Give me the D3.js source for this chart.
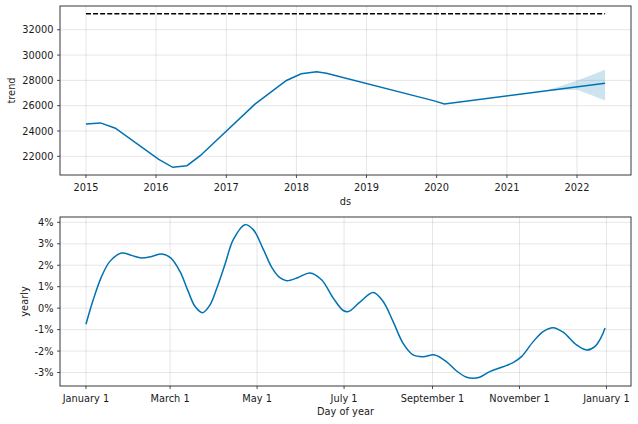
<!DOCTYPE html>
<html>
<head>
<meta charset="utf-8">
<script src="https://cdn.jsdelivr.net/npm/d3@7"></script>
<style>
  html, body { margin: 0; padding: 0; background: #fff; }
  svg { display: block; font-family: "DejaVu Sans", sans-serif; }
</style>
</head>
<body>
<svg id="chart" width="638" height="424"></svg>
<script>
// ---------------- DATA ----------------
const trendDates = ["2015-01-01","2015-03-18","2015-06-03","2016-01-15","2016-03-28","2016-06-10",
  "2016-08-18","2017-05-30","2017-11-10","2018-01-26","2018-04-16","2018-06-06","2019-12-20",
  "2020-02-10","2022-05-27"];
const trendValues = [24560,24640,24220,21760,21130,21260,22050,26120,27990,28520,28680,28570,26380,26140,27780];
const capValue = 33270;
const bandDates = ["2021-07-20","2021-10-01","2022-01-01","2022-03-15","2022-05-27"];
const bandUpper = [27171,27514,27990,28400,28830];
const bandLower = [27171,27214,27250,26850,26400];
const trendTicks = [22000,24000,26000,28000,30000,32000];

const yearlyDays = [0,5.1,11.0,16.8,25.0,32.0,39.0,46.1,53.1,59.4,65.9,71.7,76.4,81.8,86.9,91.6,97.4,
  103.3,111.5,117.3,124.3,130.5,136,140.7,148.8,157.0,165.2,173.4,180.4,184,192.1,201.4,208.4,215.4,
  222.4,229.4,236.4,244.6,252.9,259.9,266.9,271.5,276,283.2,292.5,299.5,305.4,313.6,320.6,327.6,
  334.6,344.0,351.0,356.8,361.5,364];
const yearlyPct = [-0.75,0.39,1.48,2.18,2.57,2.46,2.34,2.41,2.52,2.34,1.71,0.78,0.09,-0.21,0.14,0.9,2.02,
  3.19,3.89,3.66,2.75,1.88,1.42,1.28,1.43,1.64,1.32,0.47,-0.11,-0.16,0.28,0.73,0.31,-0.63,
  -1.64,-2.18,-2.26,-2.18,-2.5,-2.93,-3.22,-3.27,-3.22,-2.96,-2.73,-2.54,-2.26,-1.56,-1.09,-0.91,
  -1.12,-1.71,-1.95,-1.79,-1.33,-0.93];
const yearlyTickLabels = ["January 1","March 1","May 1","July 1","September 1","November 1","January 1"];
const yearlyTickDates = ["2017-01-01","2017-03-01","2017-05-01","2017-07-01","2017-09-01","2017-11-01","2018-01-01"];
const yearlyPctTicks = [-3,-2,-1,0,1,2,3,4];

// ---------------- DRAW ----------------
const svg = d3.select("#chart");
const parse = d3.utcParse("%Y-%m-%d");
const lineColor = "#0072B2";
const fontSize = 9.8;
const textColor = "#1a1a1a";

function pad(ext, f) { const r = ext[1]-ext[0]; return [ext[0]-r*f, ext[1]+r*f]; }

function grid(g, x, y, xTicks, yTicks, L, R, T, B) {
  g.append("g").selectAll("line").data(xTicks).join("line")
    .attr("x1", d => x(d)).attr("x2", d => x(d)).attr("y1", T).attr("y2", B)
    .attr("stroke", "#808080").attr("stroke-opacity", 0.22).attr("stroke-width", 0.9);
  g.append("g").selectAll("line").data(yTicks).join("line")
    .attr("y1", d => y(d)).attr("y2", d => y(d)).attr("x1", L).attr("x2", R)
    .attr("stroke", "#808080").attr("stroke-opacity", 0.22).attr("stroke-width", 0.9);
}

function axesDecor(g, x, y, xTicks, yTicks, L, R, T, B, xFmt, yFmt) {
  g.append("rect").attr("x", L).attr("y", T).attr("width", R-L).attr("height", B-T)
    .attr("fill", "none").attr("stroke", "#222").attr("stroke-width", 0.9);
  const xa = g.append("g");
  xTicks.forEach((d, i) => {
    xa.append("line").attr("x1", x(d)).attr("x2", x(d)).attr("y1", B).attr("y2", B+3)
      .attr("stroke", "#222").attr("stroke-width", 0.8);
    xa.append("text").attr("x", x(d)).attr("y", B+15.5).attr("text-anchor", "middle")
      .attr("font-size", fontSize).attr("fill", textColor).text(xFmt(d, i));
  });
  const ya = g.append("g");
  yTicks.forEach(d => {
    ya.append("line").attr("x1", L-3).attr("x2", L).attr("y1", y(d)).attr("y2", y(d))
      .attr("stroke", "#222").attr("stroke-width", 0.8);
    ya.append("text").attr("x", L-6.5).attr("y", y(d)).attr("dy", "0.36em").attr("text-anchor", "end")
      .attr("font-size", fontSize).attr("fill", textColor).text(yFmt(d));
  });
}

// ---- Top: trend ----
{
  const L = 60, R = 631, T = 6, B = 175;
  const tDates = trendDates.map(parse);
  const bDates = bandDates.map(parse);
  const x = d3.scaleUtc().domain(pad(d3.extent(tDates).map(Number), 0.05).map(v => new Date(v))).range([L, R]);
  const yExt = [d3.min(trendValues.concat(bandLower)), d3.max([capValue].concat(bandUpper))];
  const y = d3.scaleLinear().domain(pad(yExt, 0.05)).range([B, T]);
  const g = svg.append("g");
  const xTicks = d3.utcYear.range(parse("2015-01-01"), parse("2022-12-31"));
  grid(g, x, y, xTicks, trendTicks, L, R, T, B);

  const band = bDates.map((d, i) => ({d, u: bandUpper[i], l: bandLower[i]}));
  g.append("path").datum(band)
    .attr("d", d3.area().x(d => x(d.d)).y0(d => y(d.l)).y1(d => y(d.u)))
    .attr("fill", lineColor).attr("fill-opacity", 0.2);

  g.append("path").datum(tDates.map((d, i) => ({d, v: trendValues[i]})))
    .attr("d", d3.line().x(d => x(d.d)).y(d => y(d.v)))
    .attr("fill", "none").attr("stroke", lineColor).attr("stroke-width", 1.5);

  g.append("line").attr("x1", x(tDates[0])).attr("x2", x(tDates[tDates.length-1]))
    .attr("y1", y(capValue)).attr("y2", y(capValue))
    .attr("stroke", "#000").attr("stroke-width", 1.4).attr("stroke-dasharray", "5,2.1");

  axesDecor(g, x, y, xTicks, trendTicks, L, R, T, B, d => d3.utcFormat("%Y")(d), d => String(d));
  g.append("text").attr("x", (L+R)/2).attr("y", 205).attr("text-anchor", "middle")
    .attr("font-size", fontSize).attr("fill", textColor).text("ds");
  g.append("text").attr("transform", `translate(14.5,${(T+B)/2}) rotate(-90)`).attr("text-anchor", "middle")
    .attr("font-size", fontSize).attr("fill", textColor).text("trend");
}

// ---- Bottom: yearly ----
{
  const L = 60, R = 631, T = 217, B = 386;
  const start = parse("2017-01-01");
  const yDates = yearlyDays.map(d => start.getTime() + d*864e5);
  const x = d3.scaleUtc().domain(pad(d3.extent(yDates), 0.05).map(v => new Date(v))).range([L, R]);
  const y = d3.scaleLinear().domain(pad(d3.extent(yearlyPct), 0.05)).range([B, T]);
  const g = svg.append("g");
  const xTicks = yearlyTickDates.map(parse);
  grid(g, x, y, xTicks, yearlyPctTicks, L, R, T, B);

  g.append("path").datum(yDates.map((d, i) => ({d: new Date(d), v: yearlyPct[i]})))
    .attr("d", d3.line().x(d => x(d.d)).y(d => y(d.v)).curve(d3.curveCatmullRom.alpha(0.5)))
    .attr("fill", "none").attr("stroke", lineColor).attr("stroke-width", 1.5);

  axesDecor(g, x, y, xTicks, yearlyPctTicks, L, R, T, B, (d, i) => yearlyTickLabels[i], d => `${Math.round(d)}%`);
  g.append("text").attr("x", (L+R)/2).attr("y", 415).attr("text-anchor", "middle")
    .attr("font-size", fontSize).attr("fill", textColor).text("Day of year");
  g.append("text").attr("transform", `translate(27.5,${(T+B)/2}) rotate(-90)`).attr("text-anchor", "middle")
    .attr("font-size", fontSize).attr("fill", textColor).text("yearly");
}
</script>
</body>
</html>
